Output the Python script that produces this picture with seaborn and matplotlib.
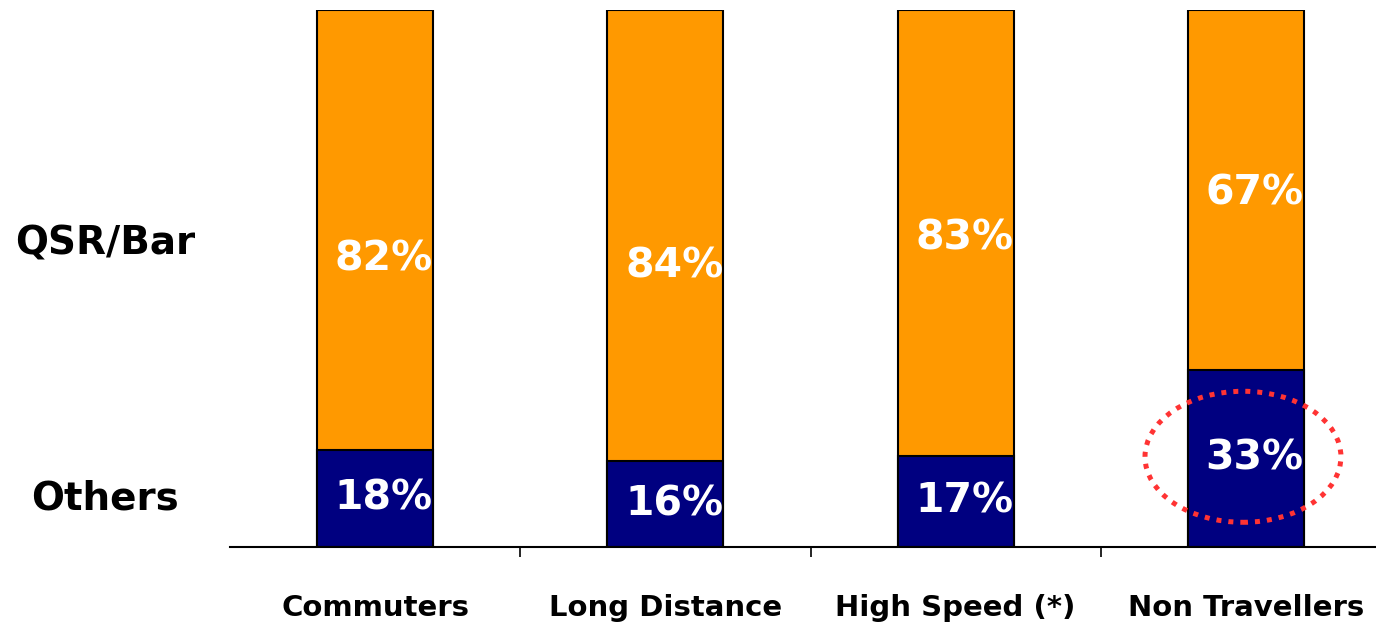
import matplotlib
matplotlib.use("Agg")
import matplotlib.pyplot as plt
from matplotlib.patches import Ellipse
import seaborn as sns
import numpy as np

# Share of spend by outlet type for each traveller segment (%)
categories = ["Commuters", "Long Distance", "High Speed (*)", "Non Travellers"]
others = [18, 16, 17, 33]
qsr_bar = [82, 84, 83, 67]
series_names = ["QSR/Bar", "Others"]

# Small vertical nudges (in % units) for the QSR/Bar value labels
qsr_label_nudge = [-5.4, -5.7, -1.0, -0.6]

ORANGE = "#FF9900"
NAVY = "#000080"

sns.set_theme(style="white")
plt.rcParams["font.family"] = ["DejaVu Sans"]

fig = plt.figure(figsize=(13.76, 6.24), dpi=100)
ax = fig.add_axes([230 / 1376, 77 / 624, 1161 / 1376, 537 / 624])

totals = [o + q for o, q in zip(others, qsr_bar)]
sns.barplot(x=categories, y=totals, color=ORANGE, width=0.4,
            edgecolor="black", linewidth=1.5, saturation=1, ax=ax)
sns.barplot(x=categories, y=others, color=NAVY, width=0.4,
            edgecolor="black", linewidth=1.5, saturation=1, ax=ax)

ax.set_xlim(-0.5, 3.5)
ax.set_ylim(0, 100)

# Value labels
for i, (o, q) in enumerate(zip(others, qsr_bar)):
    ax.text(i + 0.03, o / 2, f"{o}%", ha="center", va="center",
            color="white", fontsize=29.5, fontweight="bold")
    ax.text(i + 0.03, o + q / 2 + qsr_label_nudge[i], f"{q}%", ha="center",
            va="center", color="white", fontsize=29.5, fontweight="bold")

# Highlight the Non Travellers "Others" share
hl = categories.index("Non Travellers")
ax.add_patch(Ellipse((hl - 0.01, others[hl] / 2 + 0.3), width=0.675, height=24.4,
                     fill=False, edgecolor="#FF3333", linewidth=3.6,
                     linestyle=(0, (1.0, 1.4)), zorder=5, clip_on=False))

# Axes styling: only a baseline with separators between groups
for side in ["left", "right", "top"]:
    ax.spines[side].set_visible(False)
ax.spines["bottom"].set_color("black")
ax.spines["bottom"].set_linewidth(1.5)
ax.set_yticks([])
ax.set_xticks(range(len(categories)))
ax.set_xticklabels(categories, fontsize=21, fontweight="bold", color="black")
ax.tick_params(axis="x", which="major", length=0, pad=34)
ax.set_xticks(np.arange(0.5, len(categories) - 0.5, 1), minor=True)
ax.tick_params(axis="x", which="minor", direction="out", length=7.5,
               width=1.2, color="black", bottom=True)
ax.set_xlabel("")
ax.set_ylabel("")

# Series names on the left
fig.text(105 / 1376, 1 - 244 / 624, series_names[0], ha="center", va="center",
         fontsize=28, fontweight="bold", color="black")
fig.text(105 / 1376, 1 - 498 / 624, series_names[1], ha="center", va="center",
         fontsize=28, fontweight="bold", color="black")

fig.savefig("out.png", dpi=100, facecolor="white")
